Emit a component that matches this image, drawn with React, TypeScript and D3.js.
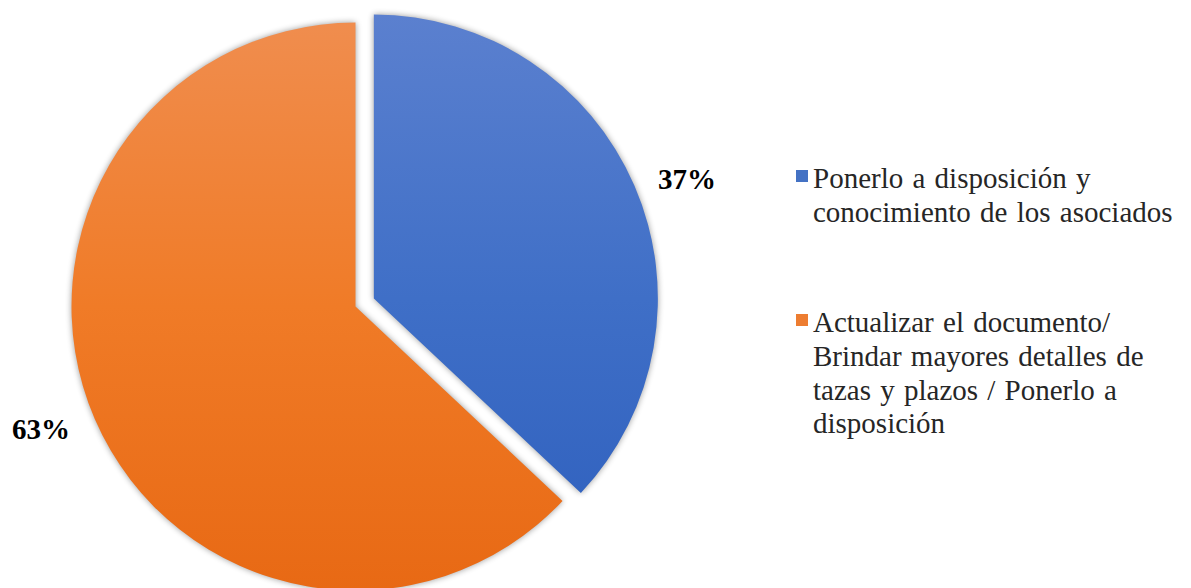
import React from "react";
import * as d3 from "d3";

const categories = [
  "Ponerlo a disposición y conocimiento de los asociados",
  "Actualizar el documento/ Brindar mayores detalles de tazas y plazos / Ponerlo a disposición",
];
const values = [37, 63];
const labels = ["37%", "63%"];
const legendLines = [
  ["Ponerlo a disposición y", "conocimiento de los asociados"],
  ["Actualizar el documento/", "Brindar mayores detalles de", "tazas y plazos / Ponerlo a", "disposición"],
];
const explode = [20, 0];

const W = 1191;
const H = 588;
const cx = 355.5;
const cy = 306.5;
const R = 284;

const grads = [
  { id: "gBlue", stops: ["#5b80cf", "#3f6fc7", "#2e5fbd"], key: "#4472c4" },
  { id: "gOrange", stops: ["#f08d4e", "#f07b27", "#e86914"], key: "#ed7d31" },
];

const font = "Liberation Serif, Tinos, Times New Roman, serif";

export default function App() {
  const pie = d3.pie<number>().sort(null).value((d) => d).startAngle(0).endAngle(2 * Math.PI);
  const arcs = pie(values);
  const arcGen = d3.arc<d3.PieArcDatum<number>>().innerRadius(0).outerRadius(R);

  const labelPos = [
    { x: 687, y: 189 },
    { x: 41, y: 439 },
  ];
  const legendPos = [
    { x: 796, y: 170, lineY: 188 },
    { x: 796, y: 314, lineY: 332 },
  ];

  const placed = arcs.map((a, i) => {
    const mid = (a.startAngle + a.endAngle) / 2;
    return { a, i, dx: Math.sin(mid) * explode[i], dy: -Math.cos(mid) * explode[i] };
  });

  return (
    <svg width={W} height={H} style={{ position: "absolute", left: 0, top: 0, background: "#fff" }}>
      <defs>
        {grads.map((g) => (
          <linearGradient key={g.id} id={g.id} gradientUnits="userSpaceOnUse" x1={0} y1={-R} x2={0} y2={R}>
            <stop offset="0%" stopColor={g.stops[0]} />
            <stop offset="50%" stopColor={g.stops[1]} />
            <stop offset="100%" stopColor={g.stops[2]} />
          </linearGradient>
        ))}
        <filter id="blur" x="-10%" y="-10%" width="120%" height="120%">
          <feGaussianBlur stdDeviation={3} />
        </filter>
      </defs>
      {placed.map(({ a, i, dx, dy }) => (
        <g key={"s" + i} transform={`translate(${cx + dx},${cy + dy})`}>
          <path d={arcGen(a) || ""} fill="#000" opacity={0.4} filter="url(#blur)" />
        </g>
      ))}
      {placed.map(({ a, i, dx, dy }) => (
        <g key={i} transform={`translate(${cx + dx},${cy + dy})`}>
          <path d={arcGen(a) || ""} fill={`url(#${grads[i].id})`} />
        </g>
      ))}
      {labels.map((l, i) => (
        <text key={i} x={labelPos[i].x} y={labelPos[i].y} textAnchor="middle" style={{ fontFamily: font, fontWeight: "bold", fontSize: 29 }} fill="#000">
          {l}
        </text>
      ))}
      {legendLines.map((lines, i) => (
        <g key={i}>
          <rect x={legendPos[i].x} y={legendPos[i].y} width={12} height={12} fill={grads[i].key} />
          {lines.map((ln, j) => (
            <text key={j} x={813} y={legendPos[i].lineY + j * 33.8} style={{ fontFamily: font, fontSize: 29, wordSpacing: 2 }} fill="#262626">
              {ln}
            </text>
          ))}
        </g>
      ))}
    </svg>
  );
}
